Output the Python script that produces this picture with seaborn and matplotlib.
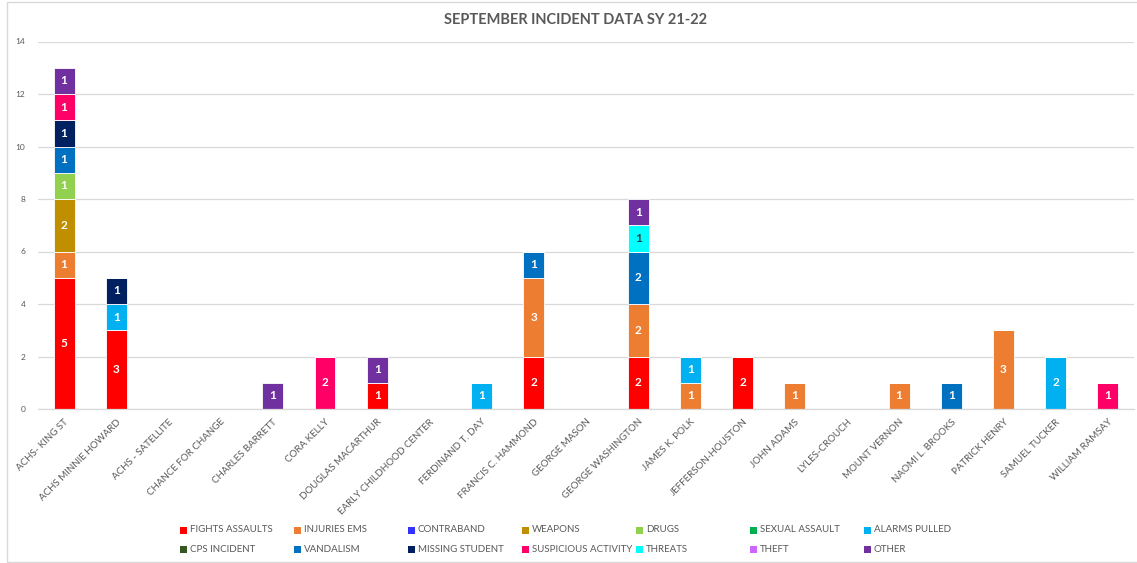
import numpy as np
import pandas as pd
import matplotlib
matplotlib.use("Agg")
import matplotlib.pyplot as plt
import matplotlib.patches as mpatches
import seaborn as sns

schools = [
    "ACHS- KING ST", "ACHS MINNIE HOWARD", "ACHS - SATELLITE", "CHANCE FOR CHANGE",
    "CHARLES BARRETT", "CORA KELLY", "DOUGLAS MACARTHUR", "EARLY CHILDHOOD CENTER",
    "FERDINAND T. DAY", "FRANCIS C. HAMMOND", "GEORGE MASON", "GEORGE WASHINGTON",
    "JAMES K. POLK", "JEFFERSON-HOUSTON", "JOHN ADAMS", "LYLES-CROUCH",
    "MOUNT VERNON", "NAOMI L. BROOKS", "PATRICK HENRY", "SAMUEL TUCKER", "WILLIAM RAMSAY",
]

types = [
    "FIGHTS ASSAULTS", "INJURIES EMS", "CONTRABAND", "WEAPONS", "DRUGS",
    "SEXUAL ASSAULT", "ALARMS PULLED", "CPS INCIDENT", "VANDALISM",
    "MISSING STUDENT", "SUSPICIOUS ACTIVITY", "THREATS", "THEFT", "OTHER",
]

colors = [
    "#FF0000", "#ED7D31", "#3333FF", "#BF8F00", "#92D050",
    "#00B050", "#00B0F0", "#375623", "#0070C0",
    "#002060", "#FF0066", "#00FFFF", "#CC66FF", "#7030A0",
]

# counts per incident type, one value per school
fights     = [5, 3, 0, 0, 0, 0, 1, 0, 0, 2, 0, 2, 0, 2, 0, 0, 0, 0, 0, 0, 0]
injuries   = [1, 0, 0, 0, 0, 0, 0, 0, 0, 3, 0, 2, 1, 0, 1, 0, 1, 0, 3, 0, 0]
contraband = [0] * 21
weapons    = [2, 0, 0, 0, 0, 0, 0, 0, 0, 0, 0, 0, 0, 0, 0, 0, 0, 0, 0, 0, 0]
drugs      = [1, 0, 0, 0, 0, 0, 0, 0, 0, 0, 0, 0, 0, 0, 0, 0, 0, 0, 0, 0, 0]
sexual     = [0] * 21
alarms     = [0, 1, 0, 0, 0, 0, 0, 0, 1, 0, 0, 0, 1, 0, 0, 0, 0, 0, 0, 2, 0]
cps        = [0] * 21
vandalism  = [1, 0, 0, 0, 0, 0, 0, 0, 0, 1, 0, 2, 0, 0, 0, 0, 0, 1, 0, 0, 0]
missing    = [1, 1, 0, 0, 0, 0, 0, 0, 0, 0, 0, 0, 0, 0, 0, 0, 0, 0, 0, 0, 0]
suspicious = [1, 0, 0, 0, 0, 2, 0, 0, 0, 0, 0, 0, 0, 0, 0, 0, 0, 0, 0, 0, 1]
threats    = [0, 0, 0, 0, 0, 0, 0, 0, 0, 0, 0, 1, 0, 0, 0, 0, 0, 0, 0, 0, 0]
theft      = [0] * 21
other      = [1, 0, 0, 0, 1, 0, 1, 0, 0, 0, 0, 1, 0, 0, 0, 0, 0, 0, 0, 0, 0]

counts = [fights, injuries, contraband, weapons, drugs, sexual, alarms, cps,
          vandalism, missing, suspicious, threats, theft, other]

rows = []
for t, vals in zip(types, counts):
    for s, v in zip(schools, vals):
        rows.append({"school": s, "type": t, "count": v})
df = pd.DataFrame(rows)

sns.set_theme(style="white")
plt.rcParams["font.family"] = ["Lato", "DejaVu Sans"]
gray = "#595959"

fig = plt.figure(figsize=(11.37, 5.63), dpi=100)
ax = fig.add_axes([38 / 1137, 1 - 409 / 563, (1134 - 38) / 1137, (409 - 41.5) / 563])

palette = dict(zip(types, colors))
# seaborn stacks the first hue level on top, so reverse to put fights at the bottom
sns.histplot(data=df, x="school", hue="type", weights="count", multiple="stack",
             hue_order=types[::-1], palette=palette, discrete=True, shrink=0.4,
             alpha=1, linewidth=0.6, edgecolor="white", legend=False, ax=ax)

# segment value labels
for cont in ax.containers:
    fc = cont.patches[0].get_facecolor()
    is_threat = np.allclose(fc[:3], matplotlib.colors.to_rgb("#00FFFF"))
    labels = [f"{int(round(p.get_height()))}" if p.get_height() > 0 else "" for p in cont.patches]
    ax.bar_label(cont, labels=labels, label_type="center", fontsize=8.5, fontweight="bold",
                 color="#404040" if is_threat else "white")

ax.set_xlim(-0.5, len(schools) - 0.5)
ax.set_ylim(0, 14)
ax.set_yticks(range(0, 15, 2))
ax.set_xticks(range(len(schools)))
ax.set_xticklabels(schools)
ax.set_xlabel("")
ax.set_ylabel("")
ax.yaxis.grid(True, color="#D9D9D9", linewidth=0.9)
ax.set_axisbelow(True)
for side in ["left", "right", "top"]:
    ax.spines[side].set_visible(False)
ax.spines["bottom"].set_color("#D9D9D9")
ax.spines["bottom"].set_linewidth(0.9)
ax.tick_params(axis="y", labelsize=6, colors=gray, length=0, pad=9)
ax.tick_params(axis="x", labelsize=7, colors=gray, length=0, pad=6)
plt.setp(ax.get_xticklabels(), rotation=45, ha="right", rotation_mode="anchor")

fig.text(575 / 1137, 1 - 20 / 563, "SEPTEMBER INCIDENT DATA SY 21-22", ha="center", va="center",
         fontsize=10.5, fontweight="bold", color=gray)

# legend laid out like Excel: 7 equal-width columns, row-major order
x0, dx = 180, 114
for i, (t, c) in enumerate(zip(types, colors)):
    col, row = i % 7, i // 7
    xp = x0 + col * dx
    yp = 530 + row * 19
    fig.patches.append(mpatches.Rectangle(((xp) / 1137, 1 - (yp + 3.5) / 563), 7 / 1137, 7 / 563,
                                          transform=fig.transFigure, facecolor=c, edgecolor="none"))
    fig.text((xp + 10) / 1137, 1 - yp / 563, t, ha="left", va="center", fontsize=7, color=gray)

# chart border
fig.patches.append(mpatches.Rectangle((7 / 1137, 1 / 563), 1.2, 1 - 3 / 563, transform=fig.transFigure,
                                      facecolor="none", edgecolor="#D9D9D9", linewidth=1))

fig.savefig("out.png", dpi=100)
